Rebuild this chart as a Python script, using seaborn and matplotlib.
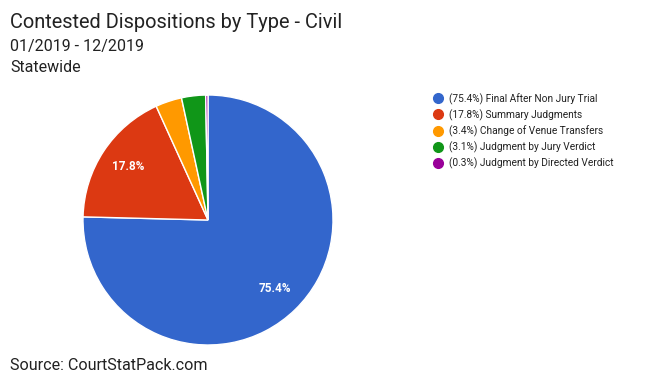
import matplotlib
matplotlib.use("Agg")
import matplotlib.pyplot as plt
import seaborn as sns
from matplotlib.lines import Line2D

categories = ["Final After Non Jury Trial", "Summary Judgments", "Change of Venue Transfers",
              "Judgment by Jury Verdict", "Judgment by Directed Verdict"]
values = [75.4, 17.8, 3.4, 3.1, 0.3]
colors = ["#3366cc", "#dc3912", "#ff9900", "#109618", "#990099"]

sns.set_theme(style="white")
plt.rcParams['font.family'] = ['Roboto', 'DejaVu Sans']

W, H = 671, 381
fig = plt.figure(figsize=(W / 100, H / 100), dpi=100)
fig.patch.set_facecolor("white")

cx, cy, r = 208, 220, 125
ax = fig.add_axes([(cx - r) / W, (H - cy - r) / H, 2 * r / W, 2 * r / H])

def fmt(p):
    return f"{p:.1f}%" if p >= 10 else ""

wedges, texts, autotexts = ax.pie(
    values, colors=colors, startangle=90, counterclock=False,
    autopct=fmt, pctdistance=0.77,
    wedgeprops=dict(edgecolor="white", linewidth=1),
    textprops=dict(color="white", fontsize=8.5, fontweight="bold"),
)
ax.set_xlim(-1, 1)
ax.set_ylim(-1, 1)
ax.set_aspect("auto")
ax.axis("off")

fig.text(10 / W, 1 - 22 / H, "Contested Dispositions by Type - Civil", fontsize=14.4,
         color="#222222", va="center", ha="left")
fig.text(10 / W, 1 - 46 / H, "01/2019 - 12/2019", fontsize=11.5, color="#222222", va="center", ha="left")
fig.text(10 / W, 1 - 67 / H, "Statewide", fontsize=11.5, color="#222222", va="center", ha="left")
fig.text(10 / W, 1 - 365 / H, "Source: CourtStatPack.com", fontsize=11.6, color="#222222",
         va="center", ha="left")

handles = [Line2D([0], [0], marker="o", linestyle="", markerfacecolor=c, markeredgecolor=c,
                  markersize=7) for c in colors]
labels = [f"({v:.1f}%) {c}" for v, c in zip(values, categories)]
leg = fig.legend(handles, labels, loc="upper left", bbox_to_anchor=(430 / W, 1 - 93 / H),
                 frameon=False, fontsize=7.3, handletextpad=0.35, labelspacing=0.45,
                 handlelength=1.5, borderaxespad=0, borderpad=0)
for t in leg.get_texts():
    t.set_color("#222222")

fig.savefig("out.png", dpi=100)
